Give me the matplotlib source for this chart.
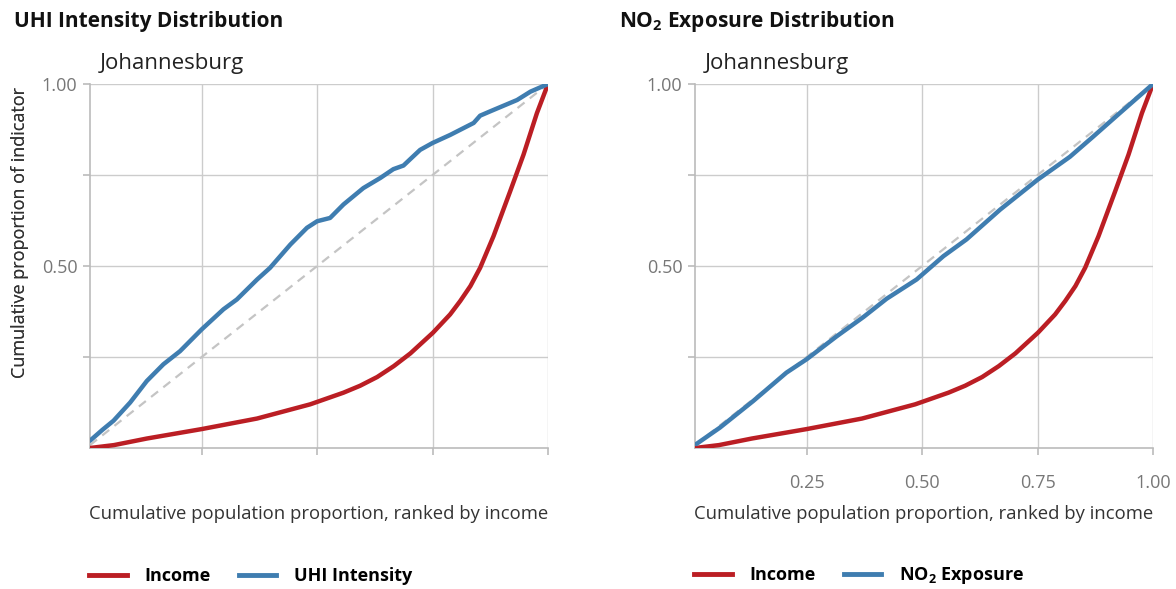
import matplotlib
matplotlib.use("Agg")
import matplotlib.pyplot as plt
from matplotlib.lines import Line2D

plt.rcParams['font.family'] = ['Open Sans', 'DejaVu Sans']
plt.rcParams['mathtext.default'] = 'regular'

# income Lorenz curve (same in both panels)
income_x = [0.008, 0.06, 0.131, 0.25, 0.37, 0.485, 0.521, 0.557, 0.593, 0.630,
            0.666, 0.702, 0.751, 0.788, 0.810, 0.832, 0.853, 0.882, 0.918,
            0.947, 0.976, 1.0]
income_y = [0.0, 0.008, 0.026, 0.052, 0.081, 0.120, 0.136, 0.152, 0.171, 0.195,
            0.225, 0.260, 0.317, 0.367, 0.404, 0.445, 0.495, 0.582, 0.705,
            0.806, 0.920, 1.0]

# UHI intensity concentration curve
uhi_x = [0.008, 0.035, 0.059, 0.095, 0.131, 0.167, 0.203, 0.25, 0.297, 0.326,
         0.37, 0.398, 0.442, 0.478, 0.5, 0.528, 0.557, 0.6, 0.637, 0.665,
         0.687, 0.702, 0.723, 0.75, 0.788, 0.839, 0.853, 0.875, 0.933,
         0.962, 1.0]
uhi_y = [0.02, 0.05, 0.075, 0.125, 0.184, 0.23, 0.266, 0.326, 0.381, 0.408,
         0.463, 0.495, 0.559, 0.605, 0.623, 0.632, 0.669, 0.714, 0.742, 0.766,
         0.776, 0.794, 0.819, 0.838, 0.86, 0.893, 0.913, 0.925, 0.956,
         0.979, 1.0]

# NO2 exposure concentration curve
no2_x = [0.011, 0.062, 0.134, 0.206, 0.25, 0.315, 0.373, 0.423, 0.488, 0.546,
         0.596, 0.669, 0.75, 0.82, 0.87, 0.928, 1.0]
no2_y = [0.011, 0.056, 0.129, 0.207, 0.244, 0.307, 0.36, 0.41, 0.463, 0.527,
         0.573, 0.655, 0.737, 0.80, 0.855, 0.92, 1.0]

panels = [
    ("UHI Intensity Distribution", "UHI Intensity", uhi_x, uhi_y, False),
    ("NO$_2$ Exposure Distribution", "NO$_2$ Exposure", no2_x, no2_y, True),
]

RED = '#bb1e24'
BLUE = '#3f7db0'
GRID = '#cccccc'

W, H = 1176, 589
fig = plt.figure(figsize=(W / 100, H / 100), dpi=100)

lefts = [90, 695]
for i, (title, name, xs, ys, show_x) in enumerate(panels):
    l = lefts[i]
    ax = fig.add_axes([l / W, 1 - 448 / H, 458 / W, 364 / H])
    ax.set_xlim(0.008, 1.0)
    ax.set_ylim(0, 1.0)
    ax.plot([0.008, 1.0], [0.008, 1.0], color='#c4c4c4', lw=1.6,
            dashes=(4, 3), zorder=2)
    ax.plot(income_x, income_y, color=RED, lw=3.2, solid_capstyle='round',
            solid_joinstyle='round', zorder=3)
    ax.plot(xs, ys, color=BLUE, lw=3.2, solid_capstyle='round',
            solid_joinstyle='round', zorder=4)

    ticks = [0.25, 0.5, 0.75, 1.0]
    ax.set_xticks(ticks)
    ax.set_yticks(ticks)
    ax.set_yticklabels(['', '0.50', '', '1.00'])
    if show_x:
        ax.set_xticklabels(['0.25', '0.50', '0.75', '1.00'])
    else:
        ax.set_xticklabels([])
    ax.grid(True, color=GRID, lw=1)
    ax.set_axisbelow(True)
    for s in ['top', 'right']:
        ax.spines[s].set_visible(False)
    for s in ['left', 'bottom']:
        ax.spines[s].set_color('#bbbbbb')
        ax.spines[s].set_linewidth(1.2)
    ax.tick_params(length=5, width=1.2, color='#bbbbbb', labelcolor='#777777',
                   labelsize=13)
    ax.tick_params(axis='y', pad=4)
    ax.tick_params(axis='x', pad=14)

    ax.set_xlabel("Cumulative population proportion, ranked by income",
                  fontsize=13.3, color='#333333')
    ax.xaxis.set_label_coords(0.5, -(505 - 448) / 364, transform=ax.transAxes)
    ax.set_ylabel("Cumulative proportion of indicator", fontsize=13,
                  color='#333333')
    ax.yaxis.set_label_coords(-(l - 29) / 458, (448 - 232) / 364)

    fig.text((l - 76) / W, 1 - 21 / H, title, fontsize=15, fontweight='bold',
             va='center', ha='left', color='#111111')
    fig.text((l + 10) / W, 1 - 63 / H, "Johannesburg", fontsize=16,
             va='center', ha='left', color='#222222')

    handles = [Line2D([], [], color=RED, lw=3.5),
               Line2D([], [], color=BLUE, lw=3.5)]
    fig.legend(handles, ["Income", name], ncol=2, frameon=False,
               loc='center left', bbox_to_anchor=((l - 8) / W, 1 - 576 / H),
               prop={'weight': 'bold', 'size': 13}, handlelength=2.1,
               handletextpad=0.95, columnspacing=1.55, borderaxespad=0)

fig.savefig("out.png", dpi=100)
